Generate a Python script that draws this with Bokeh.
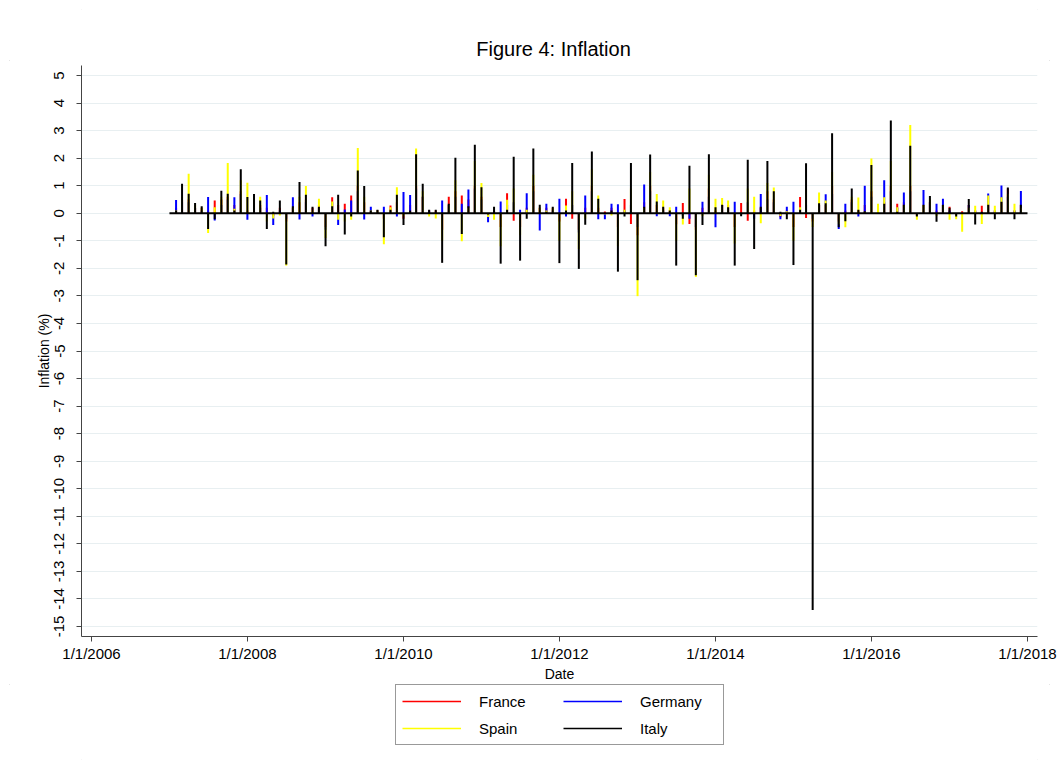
import numpy as np
import pandas as pd
from bokeh.plotting import figure
from bokeh.layouts import column
from bokeh.models import (ColumnDataSource, FixedTicker, CustomJSTickFormatter,
                          Legend, LegendItem, Label, Range1d)
from bokeh.embed import file_html
from bokeh.resources import INLINE

nan = float("nan")

# Monthly dates, Jan 2007 .. Jan 2018
dates = pd.date_range("2007-01-01", "2018-01-01", freq="MS")

france = [nan,
  0.2, 0.5, 0.5, 0.2, 0.2, 0.1, 0.46, 0.5, 0.6, 0.3, 0.8, 0.1,
  0.4, 0.3, 0.2, -0.1, 0.2, -0.3, 0.2, 0.4, 0.5, 0.2, 0.3, -0.5,
  0.58, 0.3, 0.34, 0.64, 1.0, 0.4, 0.1, 0.1, -0.2, 0.28, 0.4, -0.2,
  0.3, 1.0, 0.6, 0.1, 0.1, -0.6, 0.6, 0.8, 0.64, 0.5, 1.0, 0.6,
  -0.1, 0.1, -0.5, 0.73, -0.27, -0.5, 0.2, 1.0, 0.2, 0.2, 0.2, -0.3,
  0.53, -0.2, -0.6, 0.2, 1.0, 0.2, 0.06, 0.2, -0.5, 0.52, -0.39, -0.8,
  0.4, 1.0, 0.3, 0.2, 0.1, -0.4, 0.37, -0.39, -0.6, 0.2, 0.9, 0.1,
  0.3, 0.3, -0.5, 0.37, -0.27, 0.1, 0.2, 0.8, 0.5, -0.15, 0.1, -0.5,
  0.59, -0.17, -0.3, 0.3, 0.3, 1.0, -0.3, 0.1, 0.5, 0.1, 0.3, 0.8,
  0.2, 0.4, 1.0, 0.34, 0.4, 1.0, -0.1, 0.3, 0.4, 0.1, 0.3, 0.24,
  0.0, 0.07, 0.3, 0.1, 0.27, 0.3, 0.1, 0.4, 0.9, 0.1, 0.3,
  nan]

germany = [nan,
  0.48, 0.4, 0.4, 0.2, 0.1, 0.59, -0.26, 0.3, 0.5, 0.58, 0.7, -0.24,
  0.5, 0.2, 0.66, -0.43, 0.1, -0.2, 0.58, -0.23, 0.4, -0.12, 0.2, -0.6,
  0.4, -0.43, 0.14, 0.46, 0.8, -0.23, 0.24, 0.1, 0.24, 0.1, -0.12, 0.77,
  0.66, 0.9, 0.6, 0.1, 0.0, 0.46, 0.3, 0.6, 0.34, 0.86, 0.9, 0.5,
  -0.33, 0.1, 0.43, 0.3, 0.4, 0.13, 0.73, 0.8, -0.63, 0.34, 0.1, 0.53,
  -0.12, 0.3, -0.7, 0.64, 0.8, -0.22, -0.22, 0.34, 0.33, 0.1, 0.3, -0.5,
  1.04, 0.8, -0.11, 0.1, -0.11, 0.24, -0.1, -0.2, -0.5, 0.42, 0.6, -0.51,
  0.3, 0.2, 0.42, -0.05, 0.4, -0.2, 0.7, 0.5, 0.4, -0.22, 0.24, 0.42,
  0.15, 0.3, -0.2, 0.3, 0.69, 0.7, -0.57, 0.34, 0.4, -0.12, 1.0, 0.6,
  0.2, 1.2, 0.8, 0.2, 0.75, 0.8, 0.0, 0.84, 0.4, 0.34, 0.53, 0.1,
  -0.05, 0.0, 0.3, 0.1, -0.05, 0.72, 0.1, 1.01, 0.6, 0.1, 0.81,
  nan]

spain = [nan,
  0.1, 0.6, 1.43, 0.3, 0.2, -0.72, 0.22, 0.6, 1.82, 0.16, 1.2, 1.11,
  0.6, 0.6, -0.3, -0.19, -0.08, -1.9, 0.2, 0.6, 0.99, 0.1, 0.53, -0.9,
  0.43, -0.24, -0.3, -0.24, 2.37, 0.6, 0.1, 0.1, -1.13, 0.22, 0.94, -0.1,
  0.05, 2.35, 0.8, -0.12, -0.19, -1.0, 0.3, 1.2, -1.02, 0.2, 1.9, 1.1,
  -0.14, -0.24, -1.2, 0.49, 0.9, -0.8, 0.13, 1.4, 0.2, 0.1, 0.2, -1.0,
  0.28, 0.8, -1.3, -0.2, 1.6, 0.64, -0.05, -0.08, -1.2, 0.13, 0.9, -3.01,
  0.2, 1.5, 0.7, 0.46, 0.22, -1.0, -0.41, 0.9, -2.31, -0.1, 1.4, 0.53,
  0.55, 0.46, -1.1, -0.05, 0.9, 0.6, -0.36, 1.1, 0.93, -0.1, 0.07, -1.0,
  0.22, 0.9, -0.5, 0.75, 0.46, 1.5, -0.4, -0.51, 0.6, 0.57, 0.05, 1.99,
  0.34, 0.58, 1.9, 0.22, 0.3, 3.2, -0.24, 0.3, 0.5, -0.1, 0.3, -0.24,
  -0.22, -0.67, 0.2, 0.27, -0.39, 0.64, 0.27, 0.58, 0.7, 0.34, 0.2,
  nan]

italy = [nan,
  0.1, 1.07, 0.71, 0.37, 0.25, -0.57, -0.22, 0.82, 0.71, 0.1, 1.6, 0.59,
  0.7, 0.46, -0.57, 0.05, 0.46, -1.86, 0.25, 1.13, 0.67, 0.24, 0.24, -1.2,
  0.25, 0.67, -0.77, -0.12, 1.55, 0.99, 0.1, 0.13, -0.87, 0.13, 0.67, -0.43,
  0.1, 2.14, 1.07, 0.13, 0.13, -1.8, 0.34, 2.01, -0.75, 0.25, 2.49, 0.94,
  -0.05, 0.24, -1.83, 0.13, 2.05, -1.72, -0.2, 2.35, 0.31, 0.05, 0.24, -1.81,
  0.1, 1.82, -2.02, -0.42, 2.24, 0.53, 0.0, 0.1, -2.12, -0.12, 1.82, -2.43,
  0.24, 2.13, 0.43, 0.24, 0.1, -1.9, -0.2, 1.72, -2.25, -0.43, 2.14, 0.22,
  0.31, 0.22, -1.9, -0.11, 1.94, -1.3, 0.24, 1.9, 0.8, 0.05, -0.22, -1.88,
  0.13, 1.81, -14.4, 0.36, 0.36, 2.9, -0.51, -0.29, 0.9, 0.13, 0.07, 1.75,
  0.0, 0.34, 3.37, 0.05, 0.31, 2.45, -0.12, 0.31, 0.63, -0.31, 0.31, 0.2,
  -0.12, 0.0, 0.52, -0.41, 0.05, 0.31, -0.22, 0.42, 0.93, -0.22, 0.31,
  nan]

series_names = ["France", "Germany", "Spain", "Italy"]
series_colors = ["#ff0000", "#0000ff", "#ffff00", "#000000"]

y_ticks = list(range(-15, 6))
x_tick_years = [2006, 2008, 2010, 2012, 2014, 2016, 2018]

title_text = "Figure 4: Inflation"
x_title = "Date"
y_title = "Inflation (%)"

src = ColumnDataSource(dict(date=dates, France=france, Germany=germany,
                            Spain=spain, Italy=italy))

def ms(ts):
    return (pd.Timestamp(ts) - pd.Timestamp("1970-01-01")).total_seconds() * 1000.0

x_ticks = [ms(f"{y}-01-01") for y in x_tick_years]
year_ms = (x_ticks[-1] - x_ticks[0]) / (x_tick_years[-1] - x_tick_years[0])
pad_x = year_ms * 10 / 78.0
pad_y = 10 / 27.6

FONT = "Liberation Sans"
W = 1059
H_HEAD = 60
H_MAIN = 624
H_LEG = 85
FRAME_L = 81
FRAME_R = 1037

# ---------------- header with the title ----------------
head = figure(width=W, height=H_HEAD, x_range=Range1d(FRAME_L, FRAME_R),
              y_range=Range1d(0, H_HEAD),
              output_backend="svg", toolbar_location=None,
              x_axis_location=None, y_axis_location=None, min_border=0)
head.outline_line_color = None
head.grid.visible = False
head.add_layout(Label(x=553, y=12, text=title_text, text_align="center",
                      text_baseline="middle", text_font=FONT,
                      text_font_size="20px", text_color="black"))

# ---------------- main chart ----------------
p = figure(width=W, height=H_MAIN, x_axis_type="datetime",
           x_range=Range1d(x_ticks[0] - pad_x, x_ticks[-1] + pad_x),
           y_range=Range1d(min(y_ticks) - pad_y, max(y_ticks) + pad_y),
           output_backend="svg", toolbar_location=None,
           min_border_left=FRAME_L, min_border_right=W - FRAME_R,
           min_border_top=5, min_border_bottom=47)
p.outline_line_color = None
p.background_fill_color = "white"
p.border_fill_color = "white"

for name, col in zip(series_names, series_colors):
    p.segment(x0="date", y0=0, x1="date", y1=name, source=src,
              line_color=col, line_width=2)

# base line across the data range
p.line(x=[dates[0], dates[-1]], y=[0, 0], line_color="black", line_width=2)

p.xaxis.ticker = FixedTicker(ticks=x_ticks)
p.xaxis.formatter = CustomJSTickFormatter(code="""
const d = new Date(tick);
return (d.getUTCMonth() + 1) + "/" + d.getUTCDate() + "/" + d.getUTCFullYear();
""")
p.yaxis.ticker = FixedTicker(ticks=y_ticks)
p.yaxis.formatter = CustomJSTickFormatter(code="return String(Math.round(tick));")
p.yaxis.major_label_orientation = "vertical"

for ax in (p.xaxis[0], p.yaxis[0]):
    ax.axis_line_color = "#444444"
    ax.major_tick_line_color = "#444444"
    ax.minor_tick_line_color = None
    ax.major_tick_out = 5
    ax.major_tick_in = 0
    ax.major_label_text_font = FONT
    ax.major_label_text_font_size = "15px"
    ax.major_label_text_color = "black"
    ax.axis_label_text_font = FONT
    ax.axis_label_text_font_size = "14px"
    ax.axis_label_text_font_style = "normal"
    ax.axis_label_text_color = "black"

p.xaxis.axis_label = x_title
p.xaxis.major_label_standoff = 3
p.xaxis.axis_label_standoff = 1
p.yaxis.axis_label = y_title
p.yaxis.major_label_standoff = 12
p.yaxis.axis_label_standoff = 0

p.xgrid.grid_line_color = None
p.ygrid.grid_line_color = "#e8eff1"
p.ygrid.grid_line_width = 1

# ---------------- legend strip ----------------
leg = figure(width=W, height=H_LEG, x_range=Range1d(0, 1), y_range=Range1d(0, 1),
             output_backend="svg", toolbar_location=None,
             x_axis_location=None, y_axis_location=None, min_border=0)
leg.outline_line_color = None
leg.grid.visible = False
# legend-only line renderers (no visible data points)
leg_renderers = [leg.line(x=[nan], y=[nan], line_color=c, line_width=1.6)
                 for c in series_colors]
legend = Legend(items=[LegendItem(label=n, renderers=[r])
                       for n, r in zip(series_names, leg_renderers)],
                orientation="horizontal", ncols=2, location=(395 - FRAME_L, 24))
legend.border_line_color = "#333333"
legend.border_line_width = 1
legend.background_fill_color = "white"
legend.glyph_width = 59
legend.glyph_height = 20
legend.label_height = 20
legend.label_width = 77
legend.label_standoff = 18
legend.spacing = 7
legend.padding = 6
legend.margin = 0
legend.label_text_font = FONT
legend.label_text_font_size = "15px"
legend.label_text_color = "black"
leg.add_layout(legend)

layout = column(head, p, leg, spacing=0)
layout.styles = {"outline": "1px solid #dcdcdc", "outline-offset": "-10px"}
open("out.html", "w").write(file_html(layout, INLINE))
